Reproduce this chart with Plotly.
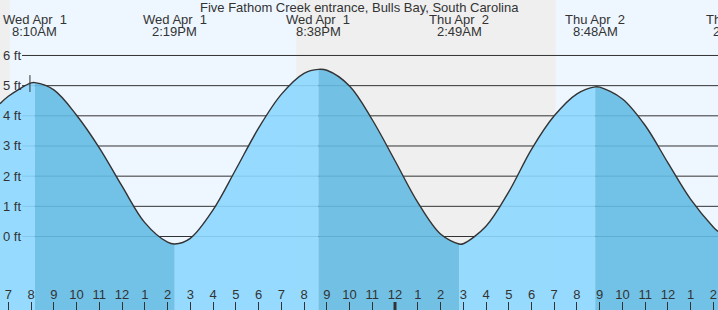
import pandas as pd
import plotly.graph_objects as go

# ---------------- data ----------------
title_text = "Five Fathom Creek entrance, Bulls Bay, South Carolina"

tide_times = [
    "2026-04-01 06:38", "2026-04-01 07:00", "2026-04-01 08:00", "2026-04-01 08:10",
    "2026-04-01 09:00", "2026-04-01 10:00", "2026-04-01 11:00", "2026-04-01 12:00",
    "2026-04-01 13:00", "2026-04-01 14:00", "2026-04-01 14:19", "2026-04-01 15:00",
    "2026-04-01 16:00", "2026-04-01 17:00", "2026-04-01 18:00", "2026-04-01 19:00",
    "2026-04-01 20:00", "2026-04-01 20:38", "2026-04-01 21:00", "2026-04-01 22:00",
    "2026-04-01 23:00", "2026-04-02 00:00", "2026-04-02 01:00", "2026-04-02 02:00",
    "2026-04-02 02:49", "2026-04-02 03:00", "2026-04-02 04:00", "2026-04-02 05:00",
    "2026-04-02 06:00", "2026-04-02 07:00", "2026-04-02 08:00", "2026-04-02 08:48",
    "2026-04-02 09:00", "2026-04-02 10:00", "2026-04-02 11:00", "2026-04-02 12:00",
    "2026-04-02 13:00", "2026-04-02 14:00", "2026-04-02 14:12",
]
tide_ft = [
    4.40, 4.65, 5.09, 5.10,
    4.86, 4.02, 2.94, 1.67,
    0.46, -0.19, -0.25, -0.06,
    0.88, 2.22, 3.59, 4.71,
    5.41, 5.54, 5.51, 4.99,
    3.87, 2.51, 1.13, 0.08,
    -0.25, -0.24, 0.34, 1.48,
    2.89, 4.00, 4.73, 4.96,
    4.95, 4.56, 3.68, 2.44,
    1.23, 0.31, 0.17,
]

event_times = ["2026-04-01 08:10", "2026-04-01 14:19", "2026-04-01 20:38",
               "2026-04-02 02:49", "2026-04-02 08:48", "2026-04-02 14:59"]
event_kind = ["high", "low", "high", "low", "high", "low"]
event_dates = ["Wed Apr\u00a0 1", "Wed Apr\u00a0 1", "Wed Apr\u00a0 1",
               "Thu Apr\u00a0 2", "Thu Apr\u00a0 2", "Thu Apr\u00a0 2"]
event_clock = ["8:10AM", "2:19PM", "8:38PM", "2:49AM", "8:48AM", "2:59PM"]

night_start = ["2026-04-01 05:00", "2026-04-01 19:39"]
night_end = ["2026-04-01 07:04", "2026-04-02 07:04"]

now_time = "2026-04-01 07:57"
now_ft = 5.07

x_range = ["2026-04-01 06:38", "2026-04-02 14:12"]
y_range = [-2.436, 7.839]
ft_ticks = [0, 1, 2, 3, 4, 5, 6]
ft_labels = [f"{v} ft" for v in ft_ticks]
hour_ticks = pd.date_range("2026-04-01 07:00", "2026-04-02 14:00", freq="h")
hour_labels = [str(t.hour % 12 or 12) for t in hour_ticks]
midnight = "2026-04-02 00:00"

# ---------------- styling ----------------
FONT = "Liberation Sans, Arial, sans-serif"
TXT = "#333333"
DAY_BG = "#eef6ff"
NIGHT_BG = "#efefef"
RISE_FILL = "rgba(140,216,255,0.9)"
FALL_FILL = "rgba(100,187,227,0.9)"
W, H = 718, 310

t_all = pd.to_datetime(pd.Series(tide_times))
v_all = pd.Series(tide_ft)
t0, t1 = pd.to_datetime(x_range[0]), pd.to_datetime(x_range[1])

fig = go.Figure()

# fill segments, split at the high / low events inside the range
ev_t = pd.to_datetime(pd.Series(event_times))
kinds = pd.Series(event_kind)
bounds = [t_all.iloc[0]] + [t for t in ev_t if t_all.iloc[0] < t < t_all.iloc[-1]] + [t_all.iloc[-1]]
for a, b in zip(bounds[:-1], bounds[1:]):
    m = (t_all >= a) & (t_all <= b)
    seg_t = t_all[m]
    seg_v = v_all[m]
    starts_high = bool(((ev_t == a) & (kinds == "high")).any())
    color = FALL_FILL if starts_high else RISE_FILL
    fig.add_trace(go.Scatter(x=seg_t, y=[y_range[0] - 1] * len(seg_t), mode="lines",
                             line=dict(width=0), hoverinfo="skip", showlegend=False))
    fig.add_trace(go.Scatter(x=seg_t, y=seg_v, mode="lines", fill="tonexty",
                             fillcolor=color, line=dict(width=0, shape="spline"),
                             hoverinfo="skip", showlegend=False))

# tide curve outline
fig.add_trace(go.Scatter(x=t_all, y=v_all, mode="lines",
                         line=dict(color=TXT, width=1.4, shape="spline"),
                         hoverinfo="skip", showlegend=False))

# current time marker
fig.add_trace(go.Scatter(x=[now_time], y=[now_ft], mode="markers",
                         marker=dict(symbol="line-ns-open", size=12, color=TXT,
                                     line=dict(color=TXT, width=1)),
                         hoverinfo="skip", showlegend=False))

shapes = []
for s, e in zip(night_start, night_end):
    shapes.append(dict(type="rect", xref="x", yref="paper", x0=s, x1=e, y0=0, y1=1,
                       fillcolor=NIGHT_BG, line=dict(width=0), layer="below"))
for v in ft_ticks:
    shapes.append(dict(type="line", xref="paper", yref="y", x0=22 / W, x1=1, y0=v, y1=v,
                       line=dict(color=TXT, width=1), layer="below"))
shapes.append(dict(type="line", xref="x", yref="paper", x0=midnight, x1=midnight,
                   y0=0, y1=8 / H, line=dict(color=TXT, width=3), layer="above"))

font13 = dict(family=FONT, size=13, color=TXT)
annotations = [dict(text=title_text, xref="paper", yref="paper", x=0.5, y=1 - 7 / H,
                    xanchor="center", yanchor="middle", showarrow=False, font=font13)]
span = (t1 - t0).total_seconds()
for t, d, c in zip(ev_t, event_dates, event_clock):
    xf = (t - t0).total_seconds() / span
    for txt, yc in ((d, 19.5), (c, 31.5)):
        annotations.append(dict(text=txt, xref="paper", yref="paper", x=xf, y=1 - yc / H,
                                xanchor="center", yanchor="middle", showarrow=False,
                                font=font13))
for v, lab in zip(ft_ticks, ft_labels):
    annotations.append(dict(text=lab, xref="paper", yref="y", x=1 / W, y=v,
                            xanchor="left", yanchor="middle", showarrow=False, font=font13))

fig.update_layout(
    width=W, height=H, margin=dict(l=0, r=0, t=0, b=0),
    paper_bgcolor=DAY_BG, plot_bgcolor=DAY_BG,
    shapes=shapes, annotations=annotations, showlegend=False,
    font=font13,
    xaxis=dict(type="date", range=x_range, showgrid=False, zeroline=False, showline=False,
               tickmode="array", tickvals=hour_ticks, ticktext=hour_labels,
               ticks="inside", ticklen=8, tickwidth=1, tickcolor=TXT,
               ticklabelposition="inside", automargin=False, tickfont=font13),
    yaxis=dict(range=y_range, showgrid=False, zeroline=False, showline=False,
               showticklabels=False, ticks="", automargin=False),
)

fig.write_html("out.html", config={"displayModeBar": False})
